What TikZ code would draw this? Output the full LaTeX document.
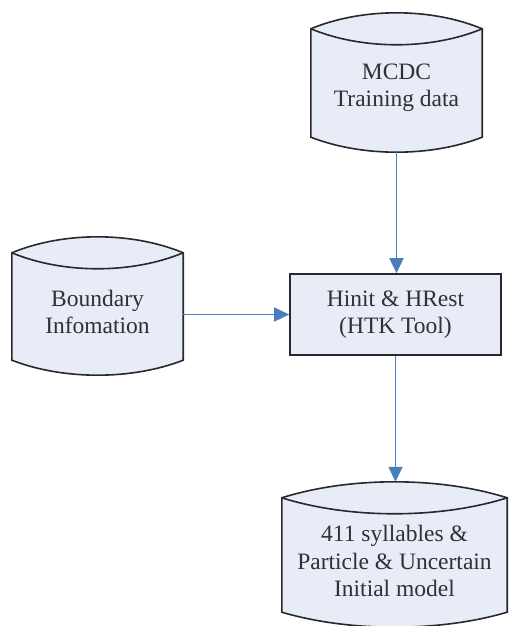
\documentclass[tikz,border=0pt]{standalone}
\usepackage{fontspec}
\setmainfont{Liberation Serif}
\usetikzlibrary{arrows.meta,calc}

\definecolor{storefill}{RGB}{231,236,246}
\definecolor{flowblue}{RGB}{74,126,187}
\definecolor{edgegray}{RGB}{40,40,46}
\definecolor{textgray}{RGB}{48,48,54}

\tikzset{
  outline/.style={draw=edgegray, line width=1.6pt, fill=storefill, line join=miter},
  storearea/.style={draw=none, inner sep=0pt},
  caption/.style={text=textgray, align=center, inner sep=0pt,
    font=\fontsize{23.5}{27.5}\selectfont},
  process/.style={outline, inner sep=0pt, minimum width=211pt, minimum height=81pt},
  flow/.style={draw=flowblue, line width=1.6pt,
    -{Triangle[length=15pt,width=14pt]}},
}

% data-store cylinder drawn inside an invisible node of the full extent
\newcommand\drawstore[1]{%
  \coordinate (#1-tl) at ($(#1.north west)+(0,-16)$);
  \coordinate (#1-tr) at ($(#1.north east)+(0,-16)$);
  \coordinate (#1-bl) at ($(#1.south west)+(0,15)$);
  \coordinate (#1-br) at ($(#1.south east)+(0,15)$);
  \path[outline] (#1-tl)
    .. controls ($(#1-tl)!0.3!(#1-tr)+(0,21.3)$) and ($(#1-tl)!0.7!(#1-tr)+(0,21.3)$) .. (#1-tr)
    -- (#1-br)
    .. controls ($(#1-bl)!0.7!(#1-br)+(0,-20)$) and ($(#1-bl)!0.3!(#1-br)+(0,-20)$) .. (#1-bl)
    -- cycle;
  \draw[edgegray, line width=1.6pt] (#1-tl)
    .. controls ($(#1-tl)!0.3!(#1-tr)+(0,-21.3)$) and ($(#1-tl)!0.7!(#1-tr)+(0,-21.3)$) .. (#1-tr);
}

\begin{document}
\begin{tikzpicture}[x=1pt, y=1pt]
  \useasboundingbox (0,0) rectangle (509,626);

  % stores
  \node[storearea, minimum width=171pt, minimum height=139pt] (mcdc) at (396.5,543.5) {};
  \node[storearea, minimum width=171pt, minimum height=138pt] (bnd) at (97.5,320) {};
  \node[storearea, minimum width=225pt, minimum height=145pt] (init) at (394.5,71.5) {};
  \drawstore{mcdc}
  \drawstore{bnd}
  \drawstore{init}

  \node[caption] (mcdc-t) at (396.5,538) {MCDC\\Training data};
  \node[caption] (bnd-t) at (97.5,314) {Boundary\\Infomation};
  \node[caption] (init-t) at (394.5,65) {411 syllables \&\\Particle \& Uncertain\\Initial model};

  % process box
  \node[process, caption] (htk) at (395.5,311.5) {Hinit \& HRest\\(HTK Tool)};

  % connectors
  \draw[flow] (mcdc.south) -- (mcdc.south |- htk.north);
  \draw[flow] (htk.west -| bnd.east) -- (htk.west);
  \draw[flow] (htk.south) -- (htk.south |- init.north);
\end{tikzpicture}
\end{document}
